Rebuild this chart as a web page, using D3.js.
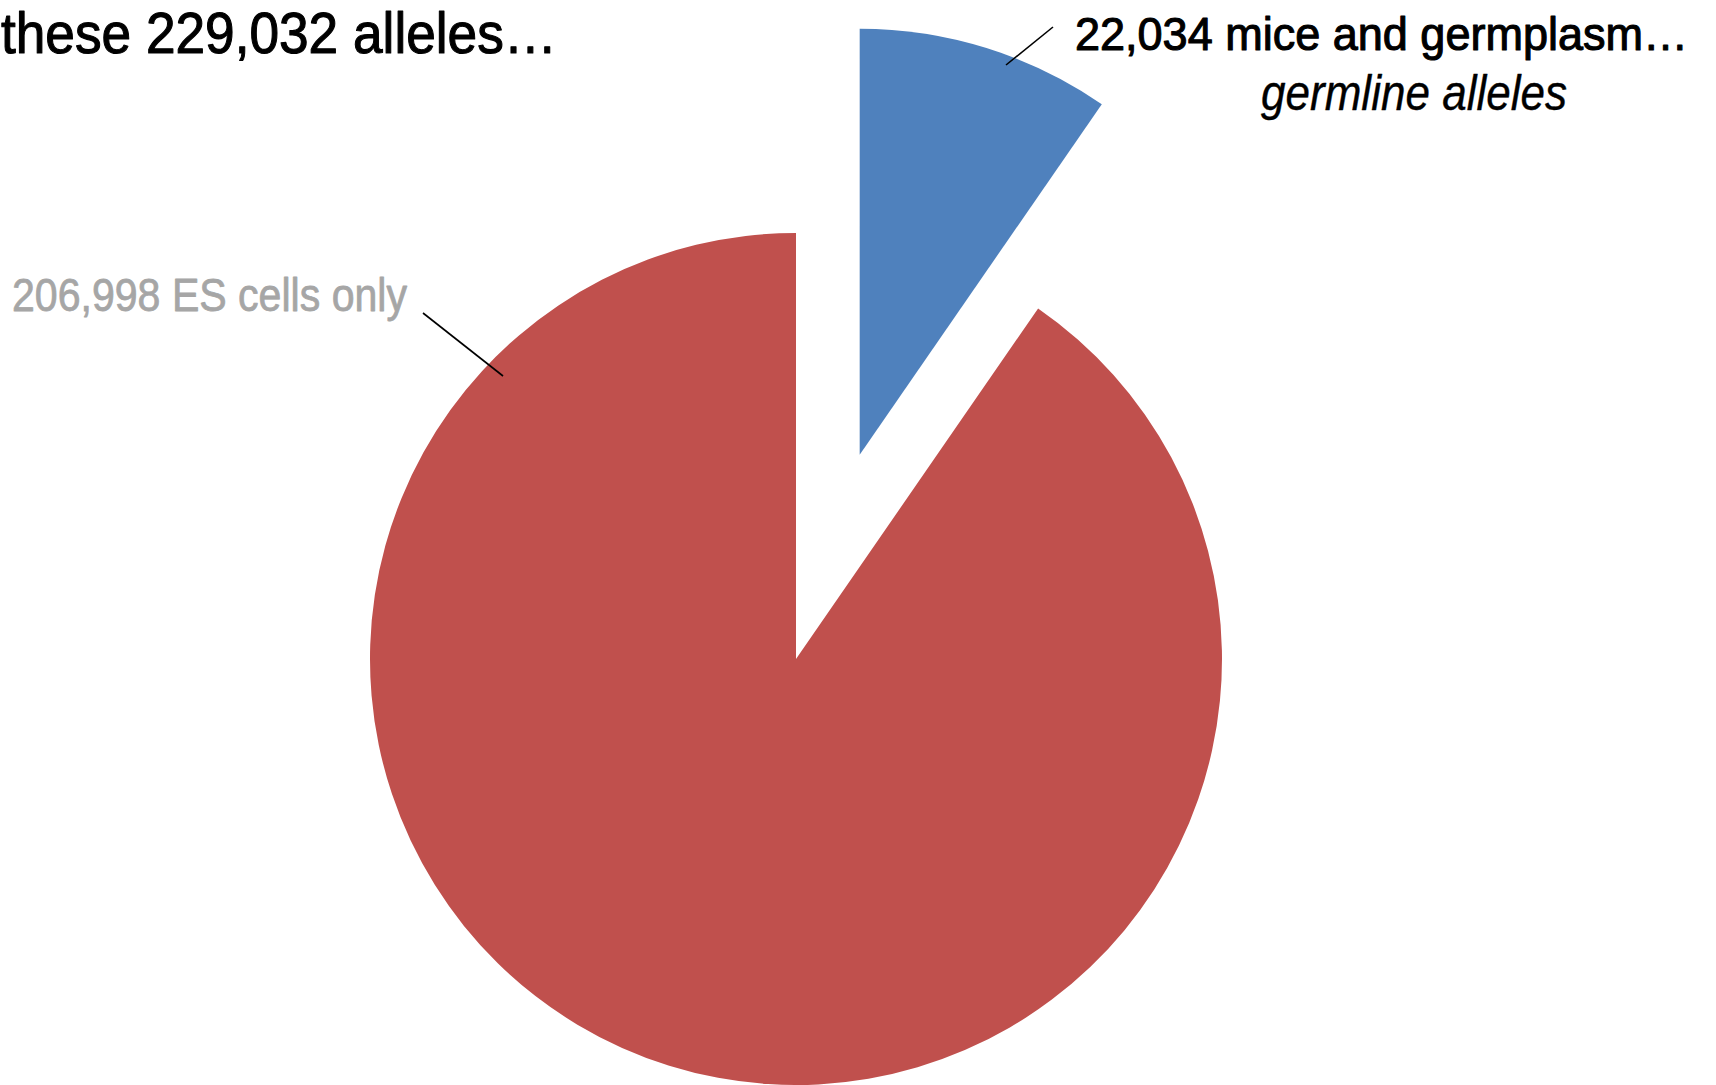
<!DOCTYPE html>
<html>
<head>
<meta charset="utf-8">
<script src="https://cdn.jsdelivr.net/npm/d3@7"></script>
<style>
  html, body { margin: 0; padding: 0; background: #ffffff; }
  svg { display: block; }
  text { font-family: "Liberation Sans Narrow", "Arial Narrow", "Liberation Sans", sans-serif; }
</style>
</head>
<body>
<svg id="chart" width="1716" height="1085"></svg>
<script>
// ---- data ----
const categories = ["mice and germplasm", "ES cells only"];
const values = [22034, 206998];
const colors = ["#4F81BD", "#C0504D"];
const titleText = "these 229,032 alleles\u2026";
const labelTexts = ["22,034 mice and germplasm\u2026", "206,998 ES cells only"];
const subLabelText = "germline alleles";

// ---- layout ----
const svg = d3.select("#chart");
const cx = 796, cy = 659, radius = 426, explode = 214;

const pie = d3.pie().sort(null).value(d => d)(values);
const arc = d3.arc().innerRadius(0).outerRadius(radius);

const g = svg.append("g").attr("transform", `translate(${cx},${cy})`);
g.selectAll("path.slice")
  .data(pie)
  .join("path")
  .attr("class", "slice")
  .attr("d", arc)
  .attr("fill", (d, i) => colors[i])
  .attr("transform", (d, i) => {
    if (i !== 0) return null;
    const mid = (d.startAngle + d.endAngle) / 2;
    return `translate(${Math.sin(mid) * explode},${-Math.cos(mid) * explode})`;
  });

// leader lines
svg.append("line").attr("x1", 1053).attr("y1", 27).attr("x2", 1006).attr("y2", 65)
  .attr("stroke", "#000").attr("stroke-width", 1.6);
svg.append("line").attr("x1", 423).attr("y1", 313).attr("x2", 503).attr("y2", 376)
  .attr("stroke", "#000").attr("stroke-width", 1.6);

// texts
function fitText(sel, width) {
  sel.attr("textLength", width).attr("lengthAdjust", "spacingAndGlyphs");
}
function thicken(sel, color, w) {
  sel.attr("stroke", color).attr("stroke-width", w).attr("stroke-linejoin", "round");
}
svg.append("text").attr("x", 1).attr("y", 53)
  .attr("font-size", 57).attr("fill", "#000").text(titleText)
  .call(fitText, 556).call(thicken, "#000", 1.1);

svg.append("text").attr("x", 1075).attr("y", 50)
  .attr("font-size", 47).attr("fill", "#000").text(labelTexts[0])
  .call(fitText, 613).call(thicken, "#000", 1.1);

svg.append("text").attr("x", 1261).attr("y", 110)
  .attr("font-size", 50).attr("font-style", "italic").attr("fill", "#000").text(subLabelText)
  .call(fitText, 306).call(thicken, "#000", 0.4);

svg.append("text").attr("x", 12).attr("y", 311)
  .attr("font-size", 46).attr("fill", "#A6A6A6").text(labelTexts[1])
  .call(fitText, 395).call(thicken, "#A6A6A6", 0.8);
</script>
</body>
</html>
